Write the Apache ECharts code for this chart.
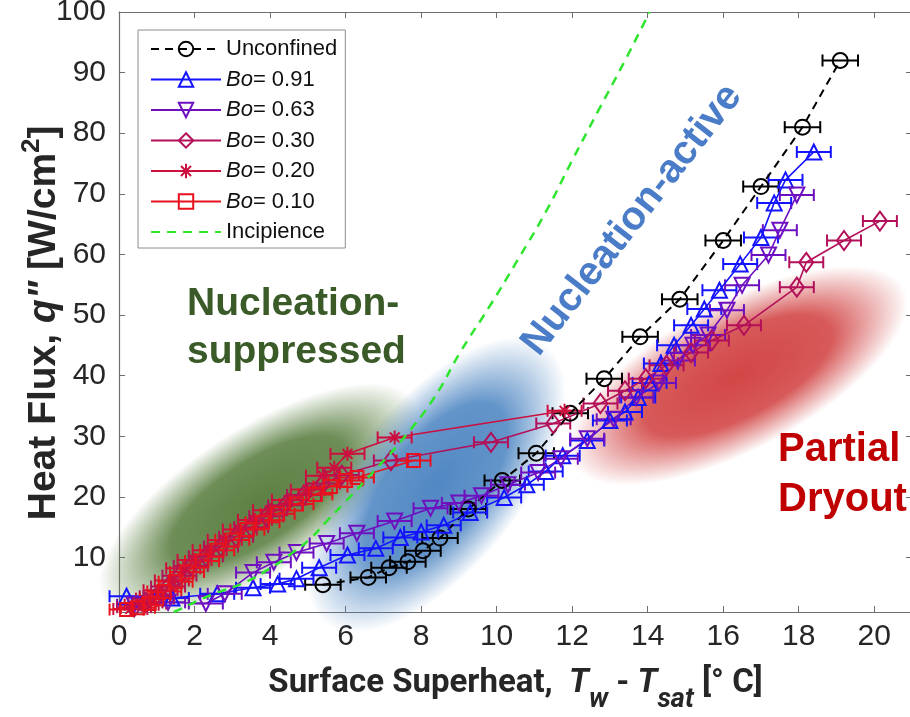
<!DOCTYPE html>
<html>
<head>
<meta charset="utf-8">
<script src="https://cdn.jsdelivr.net/npm/echarts@6/dist/echarts.min.js"></script>
<style>
  html, body { margin: 0; padding: 0; background: #fff; }
  #chart { width: 910px; height: 717px; }
</style>
</head>
<body>
<div id="chart"></div>
<script>
// ---------------------------------------------------------------------------
// Data (superheat in deg C, heat flux in W/cm^2)
// ---------------------------------------------------------------------------
const xTicks = [0, 2, 4, 6, 8, 10, 12, 14, 16, 18, 20];
const yTicks = [10, 20, 30, 40, 50, 60, 70, 80, 90, 100];

const unconfined = [
  [5.4, 5.5], [6.6, 6.7], [7.15, 8.3], [7.65, 9.3], [8.05, 11.1], [8.5, 13.2],
  [9.25, 18.0], [10.15, 22.7], [11.05, 27.2], [11.95, 33.8], [12.85, 39.5],
  [13.8, 46.4], [14.85, 52.6], [16.0, 62.3], [17.0, 71.2], [18.1, 81.0], [19.1, 92.0],
];
const bo091 = [
  [0.2, 3.6], [1.4, 3.3], [2.6, 4.0], [3.55, 5.0], [4.2, 5.6], [4.7, 6.5], [5.3, 8.3],
  [6.05, 10.4], [6.8, 11.5], [7.45, 13.3], [8.0, 14.2], [8.6, 15.3], [9.3, 17.4],
  [10.2, 19.9], [10.8, 22.0], [11.3, 24.2], [11.75, 26.8], [12.4, 29.3], [13.0, 32.6],
  [13.4, 34.0], [13.75, 36.4], [14.05, 38.8], [14.35, 42.0], [14.7, 45.0], [15.15, 48.3],
  [15.5, 51.0], [15.9, 54.1], [16.45, 58.4], [17.0, 62.8], [17.35, 68.5], [17.65, 72.3],
  [18.4, 76.9],
];
const bo063 = [
  [0.4, 2.2], [1.3, 2.6], [2.3, 2.4], [2.8, 4.0], [3.55, 7.5], [4.1, 9.2], [4.7, 10.8],
  [5.5, 12.3], [6.3, 14.0], [7.3, 16.0], [8.25, 18.1], [9.0, 19.0], [9.6, 20.2],
  [10.3, 22.0], [11.1, 24.0], [11.7, 26.3], [12.4, 29.6], [13.1, 32.8], [13.7, 36.4],
  [14.3, 38.8], [14.8, 42.5], [15.2, 45.0], [15.6, 46.7], [16.1, 50.8], [16.5, 54.9],
  [17.2, 59.9], [17.5, 64.0], [17.95, 69.8],
];
const bo030 = [
  [0.4, 1.8], [0.7, 2.6], [1.0, 3.6], [1.3, 5.2], [1.6, 7.0], [1.9, 8.6], [2.3, 10.2],
  [2.7, 11.8], [3.1, 13.4], [3.5, 15.0], [3.9, 16.8], [4.4, 18.6], [4.9, 20.3],
  [5.4, 22.2], [5.9, 23.6], [7.2, 26.0], [9.85, 29.0], [11.5, 32.1], [12.75, 35.4],
  [13.4, 37.5], [13.95, 39.5], [14.5, 41.7], [15.15, 43.8], [15.7, 45.8], [16.55, 48.3],
  [17.95, 54.6], [18.2, 58.7], [19.2, 62.3], [20.15, 65.5],
];
const bo020 = [
  [0.3, 1.5], [0.6, 2.2], [0.9, 3.2], [1.1, 4.6], [1.4, 6.2], [1.7, 8.2], [2.0, 9.6],
  [2.4, 11.2], [2.8, 12.9], [3.2, 14.6], [3.6, 16.2], [4.0, 17.8], [4.5, 19.5],
  [5.0, 21.2], [5.4, 23.5], [5.7, 24.8], [6.05, 27.1], [7.3, 29.8], [11.8, 34.2],
];
const bo010 = [
  [0.2, 1.4], [0.5, 1.7], [0.8, 2.4], [1.0, 3.2], [1.2, 4.4], [1.5, 6.0], [1.8, 7.6],
  [2.2, 9.4], [2.6, 11.2], [3.0, 12.9], [3.4, 14.6], [3.8, 15.8], [4.2, 17.2],
  [4.7, 18.8], [5.2, 20.4], [5.6, 21.7], [6.0, 22.7], [6.3, 23.2], [7.8, 26.0],
];
const incipience = [
  [1.45, 1.0], [1.8, 2.0], [2.2, 3.2], [2.6, 4.2], [3.3, 5.8], [4.0, 8.2], [4.6, 10.8],
  [5.1, 13.3], [5.5, 16.0], [5.95, 18.9], [6.85, 24.9], [7.55, 29.8], [8.35, 36.4],
  [9.05, 44.0], [9.8, 51.3], [10.55, 59.0], [11.3, 67.0], [12.0, 75.5], [12.7, 83.8],
  [13.4, 92.0], [14.05, 100],
];

// shaded regime zones, centre in data units
const zoneCentres = [[3.7, 19.4], [8.4, 22.0], [16.4, 40.0]];

// ---------------------------------------------------------------------------
// Styling
// ---------------------------------------------------------------------------
const SANS = "'Liberation Sans', Arial, sans-serif";
const TITLE_FONT = "Roboto, 'Liberation Sans', Arial, sans-serif";
const AXIS_COLOR = "#6e6e6e";
const TEXT_COLOR = "#262626";

// zone look: radii in px, rotation in deg, rgb colour
const zoneLooks = [
  { rx: 185, ry: 72, angle: 33, rgb: "84,122,58" },
  { rx: 178, ry: 84, angle: 51, rgb: "72,130,192" },
  { rx: 188, ry: 74, angle: 28, rgb: "208,60,60" },
];

const seriesDefs = [
  { name: "Unconfined", data: unconfined, color: "#000000", symbol: "circle", size: 15, err: 0.47, dashed: true },
  { name: "Bo= 0.91", data: bo091, color: "#1414ff", symbol: "triangle", size: 15, err: 0.45 },
  { name: "Bo= 0.63", data: bo063, color: "#6e10c0", symbol: "triangle", rotate: 180, size: 15, err: 0.45 },
  { name: "Bo= 0.30", data: bo030, color: "#b3105a", symbol: "diamond", size: [14, 19], err: 0.45 },
  { name: "Bo= 0.20", data: bo020, color: "#cc0f3e", symbol: "path://M5,0V10M0,5H10M1.5,1.5L8.5,8.5M1.5,8.5L8.5,1.5", size: 14, err: 0.45 },
  { name: "Bo= 0.10", data: bo010, color: "#e8121e", symbol: "rect", size: 13, err: 0.45 },
];

const chart = echarts.init(document.getElementById("chart"), null, { renderer: "canvas" });

const zoneSeries = {
  type: "custom",
  name: "zones",
  silent: true,
  z: 1,
  data: zoneCentres,
  encode: { x: 0, y: 1 },
  renderItem: (params, api) => {
    const look = zoneLooks[params.dataIndex];
    const p = api.coord([api.value(0), api.value(1)]);
    return {
      type: "circle",
      shape: { cx: 0, cy: 0, r: 1 },
      x: p[0],
      y: p[1],
      scaleX: look.rx,
      scaleY: look.ry,
      rotation: (look.angle * Math.PI) / 180,
      style: {
        fill: {
          type: "radial", x: 0.5, y: 0.5, r: 0.5,
          colorStops: [
            { offset: 0, color: `rgba(${look.rgb},0.95)` },
            { offset: 0.55, color: `rgba(${look.rgb},0.85)` },
            { offset: 1, color: `rgba(${look.rgb},0)` },
          ],
        },
      },
    };
  },
};

const errorBarSeries = (def) => ({
  type: "custom",
  name: def.name + " err",
  silent: true,
  z: 3,
  data: def.data,
  encode: { x: 0, y: 1 },
  renderItem: (params, api) => {
    const x = api.value(0);
    const y = api.value(1);
    const a = api.coord([x - def.err, y]);
    const b = api.coord([x + def.err, y]);
    const cap = 6;
    const style = { stroke: def.color, lineWidth: 2 };
    return {
      type: "group",
      children: [
        { type: "line", shape: { x1: a[0], y1: a[1], x2: b[0], y2: b[1] }, style },
        { type: "line", shape: { x1: a[0], y1: a[1] - cap, x2: a[0], y2: a[1] + cap }, style },
        { type: "line", shape: { x1: b[0], y1: b[1] - cap, x2: b[0], y2: b[1] + cap }, style },
      ],
    };
  },
});

const lineSeries = (def) => ({
  type: "line",
  name: def.name,
  data: def.data,
  z: 4,
  symbol: def.symbol,
  symbolRotate: def.rotate || 0,
  symbolSize: def.size,
  showAllSymbol: true,
  lineStyle: {
    color: def.color,
    width: def.dashed ? 2 : 1.6,
    type: def.dashed ? [8, 6] : "solid",
  },
  itemStyle: { color: "rgba(0,0,0,0)", borderColor: def.color, borderWidth: 2 },
  emphasis: { disabled: true },
});

const series = [zoneSeries];
seriesDefs.forEach((def) => {
  series.push(lineSeries(def));
  series.push(errorBarSeries(def));
});
series.push({
  type: "line",
  name: "Incipience",
  data: incipience,
  z: 5,
  smooth: true,
  symbol: "circle",
  showSymbol: false,
  itemStyle: { color: "rgba(0,0,0,0)", borderWidth: 0 },
  lineStyle: { color: "#2ee62e", width: 2.5, type: [9, 7] },
  emphasis: { disabled: true },
});

const tickLabelStyle = { fontFamily: SANS, fontSize: 30, color: TEXT_COLOR };
const axisLine = { show: true, onZero: false, lineStyle: { color: AXIS_COLOR, width: 1.2 } };

const option = {
  animation: false,
  backgroundColor: "#fff",
  grid: { left: 119, top: 12, width: 793, height: 600, outerBoundsMode: "none" },
  legend: {
    data: seriesDefs.map((d) => d.name).concat(["Incipience"]),
    orient: "vertical",
    left: 138,
    top: 30,
    padding: [8, 8, 5, 12],
    itemWidth: 70,
    itemHeight: 18,
    itemGap: 8.5,
    backgroundColor: "#fff",
    borderColor: "#8c8c8c",
    borderWidth: 1,
    selectedMode: false,
    textStyle: {
      fontFamily: SANS, fontSize: 22, color: "#111",
      rich: { i: { fontFamily: SANS, fontSize: 22, fontStyle: "italic", color: "#111" } },
    },
    formatter: (name) => (name.startsWith("Bo") ? "{i|Bo}" + name.slice(2) : name),
  },
  xAxis: [
    {
      type: "value", min: 0, max: 21, position: "bottom",
      axisLine,
      axisTick: { show: true, inside: true, length: 6, customValues: xTicks, lineStyle: { color: AXIS_COLOR } },
      axisLabel: { customValues: xTicks, margin: 10, ...tickLabelStyle },
      splitLine: { show: false },
      name: "{a|Surface Superheat,  }{t|T}{s|w}{a| - }{t|T}{s|sat}{a| [° C]}",
      nameLocation: "middle",
      nameGap: 41,
      nameMoveOverlap: false,
      nameTextStyle: {
        rich: {
          a: { fontFamily: TITLE_FONT, fontWeight: "bold", fontSize: 33, color: TEXT_COLOR },
          t: { fontFamily: TITLE_FONT, fontWeight: "bold", fontStyle: "italic", fontSize: 33, color: TEXT_COLOR },
          s: { fontFamily: TITLE_FONT, fontWeight: "bold", fontStyle: "italic", fontSize: 27, color: TEXT_COLOR, padding: [34, 0, 0, 0] },
        },
      },
    },
    {
      type: "value", min: 0, max: 21, position: "top",
      axisLine,
      axisTick: { show: true, inside: true, length: 6, customValues: xTicks, lineStyle: { color: AXIS_COLOR } },
      axisLabel: { show: false },
      splitLine: { show: false },
    },
  ],
  yAxis: [
    {
      type: "value", min: 1, max: 100, position: "left",
      axisLine,
      axisTick: { show: true, inside: true, length: 6, customValues: yTicks, lineStyle: { color: AXIS_COLOR } },
      axisLabel: { customValues: yTicks, margin: 13, ...tickLabelStyle },
      splitLine: { show: false },
      // two trailing spaces nudge the visible title down a little
      name: 'Heat Flux, {q|q"} [W/cm{sup|2}]  ',
      nameLocation: "middle",
      nameGap: 50,
      nameMoveOverlap: false,
      nameTextStyle: {
        fontFamily: SANS, fontWeight: "bold", fontSize: 39, color: TEXT_COLOR,
        rich: {
          q: { fontFamily: SANS, fontWeight: "bold", fontStyle: "italic", fontSize: 39, color: TEXT_COLOR },
          sup: { fontFamily: SANS, fontWeight: "bold", fontSize: 26, color: TEXT_COLOR, padding: [0, 0, 24, 0] },
        },
      },
    },
    {
      type: "value", min: 1, max: 100, position: "right",
      axisLine,
      axisTick: { show: true, inside: true, length: 6, customValues: yTicks, lineStyle: { color: AXIS_COLOR } },
      axisLabel: { show: false },
      splitLine: { show: false },
    },
  ],
  graphic: [
    {
      type: "text", left: 187, top: 280, z: 10, silent: true,
      style: {
        text: "Nucleation-\nsuppressed", fill: "#3a5a28", align: "center",
        font: `bold 39px ${SANS}`, lineHeight: 48,
      },
    },
    {
      type: "text", x: 632, y: 220, rotation: (52 * Math.PI) / 180, z: 10, silent: true,
      style: {
        text: "Nucleation-active", fill: "#4a7cc7", align: "center", verticalAlign: "middle",
        font: `bold 40px ${SANS}`,
      },
    },
    {
      type: "text", left: 778, top: 425, z: 10, silent: true,
      style: {
        text: "Partial\nDryout", fill: "#c00000", align: "center",
        font: `bold 40px ${SANS}`, lineHeight: 50,
      },
    },
  ],
  series,
};

chart.setOption(option);
window.addEventListener("resize", () => chart.resize());
</script>
</body>
</html>
